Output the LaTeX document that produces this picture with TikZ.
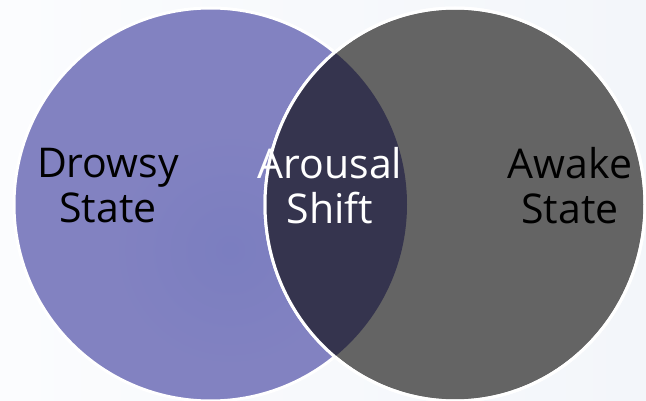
\documentclass[tikz,border=0pt]{standalone}
\usepackage{fontspec}
\setmainfont{Open Sans}
\definecolor{paper}{HTML}{F3F6FA}
\definecolor{paperhi}{HTML}{FBFCFE}
\definecolor{drowsy}{HTML}{8282C1}
\definecolor{drowsyin}{HTML}{7B7EC0}
\definecolor{awake}{HTML}{646464}
\definecolor{shiftc}{HTML}{35344E}
\begin{document}
\begin{tikzpicture}[x=1pt,y=-1pt,
  lbl/.style={align=center, inner sep=0pt,
    font=\fontsize{41}{45}\selectfont},
  ring/.style={draw=white, line width=3pt}]
  % page and background wash
  \useasboundingbox (0,0) rectangle (646,401);
  \shade[left color=paperhi, right color=paper] (0,0) rectangle (646,401);

  % left set
  \path[fill=drowsy, ring] (210.5,204.5) circle[radius=196.5];
  \shade[inner color=drowsyin, outer color=drowsy] (230,250) circle[radius=120];

  % right set
  \path[fill=awake, ring] (455,204.5) ellipse[x radius=190, y radius=196.5];

  % overlap of the two sets
  \begin{scope}
    \clip (455,204.5) ellipse[x radius=190, y radius=196.5];
    \fill[shiftc] (210.5,204.5) circle[radius=196.5];
  \end{scope}
  \draw[white, line width=3pt] (455,204.5) ellipse[x radius=190, y radius=196.5];

  % labels
  \node[lbl, text=black] (drowsyLbl) at (108,186) {Drowsy\\State};
  \node[lbl, text=white] (shiftLbl)  at (330,186) {Arousal\\Shift};
  \node[lbl, text=black] (awakeLbl)  at (570,186) {Awake\\State};
\end{tikzpicture}
\end{document}
